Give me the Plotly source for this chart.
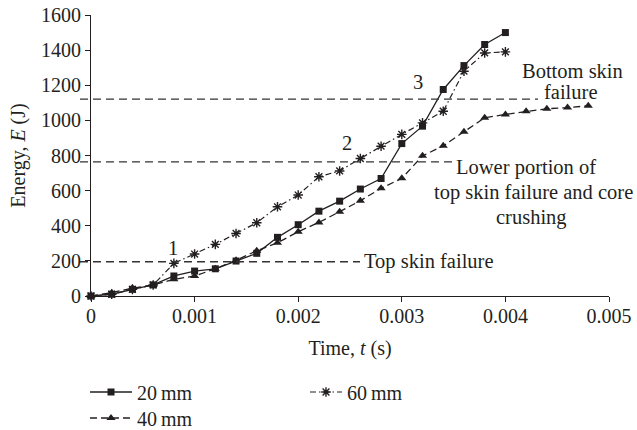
import plotly.graph_objects as go

# ---- data ----
t20 = [0, 0.0002, 0.0004, 0.0006, 0.0008, 0.0010, 0.0012, 0.0014, 0.0016, 0.0018, 0.0020,
       0.0022, 0.0024, 0.0026, 0.0028, 0.0030, 0.0032, 0.0034, 0.0036, 0.0038, 0.0040]
e20 = [0, 10, 38, 63, 114, 142, 155, 199, 243, 334, 406, 483, 540, 609, 669, 868, 967, 1176, 1312, 1432, 1500]

t40 = [0, 0.0002, 0.0004, 0.0006, 0.0008, 0.0010, 0.0012, 0.0014, 0.0016, 0.0018, 0.0020,
       0.0022, 0.0024, 0.0026, 0.0028, 0.0030, 0.0032, 0.0034, 0.0036, 0.0038, 0.0040,
       0.0042, 0.0044, 0.0046, 0.0048]
e40 = [0, 19, 45, 63, 95, 114, 155, 203, 258, 303, 366, 419, 480, 543, 613, 670, 798, 855, 935, 1015,
       1034, 1052, 1066, 1073, 1083]

t60 = [0, 0.0002, 0.0004, 0.0006, 0.0008, 0.0010, 0.0012, 0.0014, 0.0016, 0.0018, 0.0020,
       0.0022, 0.0024, 0.0026, 0.0028, 0.0030, 0.0032, 0.0034, 0.0036, 0.0038, 0.0040]
e60 = [0, 10, 38, 63, 186, 239, 294, 356, 417, 508, 575, 679, 712, 783, 853, 920, 986, 1052, 1280, 1384, 1390]

series_names = ["20\u2009mm", "40\u2009mm", "60\u2009mm"]

failure_levels = [195, 764, 1121]
failure_labels = ["Top skin failure",
                  "Lower portion of", "top skin failure and core", "crushing",
                  "Bottom skin", "failure"]
point_labels = ["1", "2", "3"]

x_ticks = [0, 0.001, 0.002, 0.003, 0.004, 0.005]
x_ticktext = ["0", "0.001", "0.002", "0.003", "0.004", "0.005"]
y_ticks = [0, 200, 400, 600, 800, 1000, 1200, 1400, 1600]

# ---- layout geometry (pixels) ----
W, H = 637, 430
L, R, T, B = 91, 609, 15, 296
XMAX, YMAX = 0.005, 1600
FONT = "Liberation Serif"
INK = "#231f20"


def px2x(px):
    return (px - L) / (R - L) * XMAX


def py2y(py):
    return (B - py) / (B - T) * YMAX


def py2paper(py):
    return (B - py) / (B - T)


def px2paper(px):
    return (px - L) / (R - L)


fig = go.Figure()

fig.add_trace(go.Scatter(
    x=t20, y=e20, name=series_names[0], mode="lines+markers",
    line=dict(color=INK, width=1.3),
    marker=dict(symbol="square", size=7, color=INK),
    cliponaxis=False, legend="legend"))
fig.add_trace(go.Scatter(
    x=t40, y=e40, name=series_names[1], mode="lines+markers",
    line=dict(color=INK, width=1.3, dash="7px,4px"),
    marker=dict(symbol="triangle-up", size=8, color=INK),
    cliponaxis=False, legend="legend2"))
fig.add_trace(go.Scatter(
    x=t60, y=e60, name=series_names[2], mode="lines+markers",
    line=dict(color=INK, width=1.2, dash="6px,3px,1.5px,3px"),
    marker=dict(symbol="asterisk-open", size=8, line=dict(color=INK, width=1.4)),
    cliponaxis=False, legend="legend3"))

# dashed failure lines
line_ends_px = [360, 452, 538]
for lvl, xe in zip(failure_levels, line_ends_px):
    fig.add_shape(type="line", xref="paper", yref="y",
                  x0=px2paper(80), x1=px2paper(xe), y0=lvl, y1=lvl,
                  line=dict(color="#333333", width=1.3, dash="8px,5px"))

ann_font = dict(family=FONT, size=20.5, color=INK)
ann_pos = [  # (x px, y px, anchor)
    (362, 261, "left"),
    (526, 167, "center"),
    (533, 192, "center"),
    (531, 217, "center"),
    (572, 71, "center"),
    (571, 92, "center"),
]
for text, (x, y, a) in zip(failure_labels, ann_pos):
    fig.add_annotation(x=px2x(x), y=py2y(y), text=text, showarrow=False,
                       xanchor=a, yanchor="middle", font=ann_font)

num_pos = [(173, 248), (347, 143), (418, 82)]
for text, (x, y) in zip(point_labels, num_pos):
    fig.add_annotation(x=px2x(x), y=py2y(y), text=text, showarrow=False,
                       xanchor="center", yanchor="middle", font=ann_font)

leg_font = dict(family=FONT, size=20, color=INK)
leg_common = dict(font=leg_font, bgcolor="rgba(0,0,0,0)", xanchor="left", yanchor="middle")

fig.update_layout(
    width=W, height=H,
    margin=dict(l=L, r=W - R, t=T, b=H - B, autoexpand=False),
    paper_bgcolor="white", plot_bgcolor="white",
    font=dict(family=FONT, size=20, color=INK),
    showlegend=True,
    legend=dict(x=px2paper(85), y=py2paper(392), itemwidth=42, **leg_common),
    legend2=dict(x=px2paper(85), y=py2paper(418), itemwidth=42, **leg_common),
    legend3=dict(x=px2paper(305), y=py2paper(392), itemwidth=32, **leg_common),
    xaxis=dict(range=[0, XMAX], tickvals=x_ticks, ticktext=x_ticktext,
               showgrid=False, zeroline=False, showline=True, linecolor=INK, linewidth=1.2,
               ticks="outside", ticklen=5, tickcolor=INK, tickwidth=1.2,
               ticklabelstandoff=-3,
               tickfont=dict(family=FONT, size=20, color=INK),
               title=dict(text="Time, <i>t</i> (s)", standoff=14,
                          font=dict(family=FONT, size=20, color=INK))),
    yaxis=dict(range=[0, YMAX], tickvals=y_ticks,
               showgrid=False, zeroline=False, showline=True, linecolor=INK, linewidth=1.2,
               ticks="outside", ticklen=5, tickcolor=INK, tickwidth=1.2,
               tickfont=dict(family=FONT, size=20, color=INK),
               title=dict(text="Energy, <i>E</i> (J)", standoff=9,
                          font=dict(family=FONT, size=20, color=INK))),
)

fig.write_html("out.html")
